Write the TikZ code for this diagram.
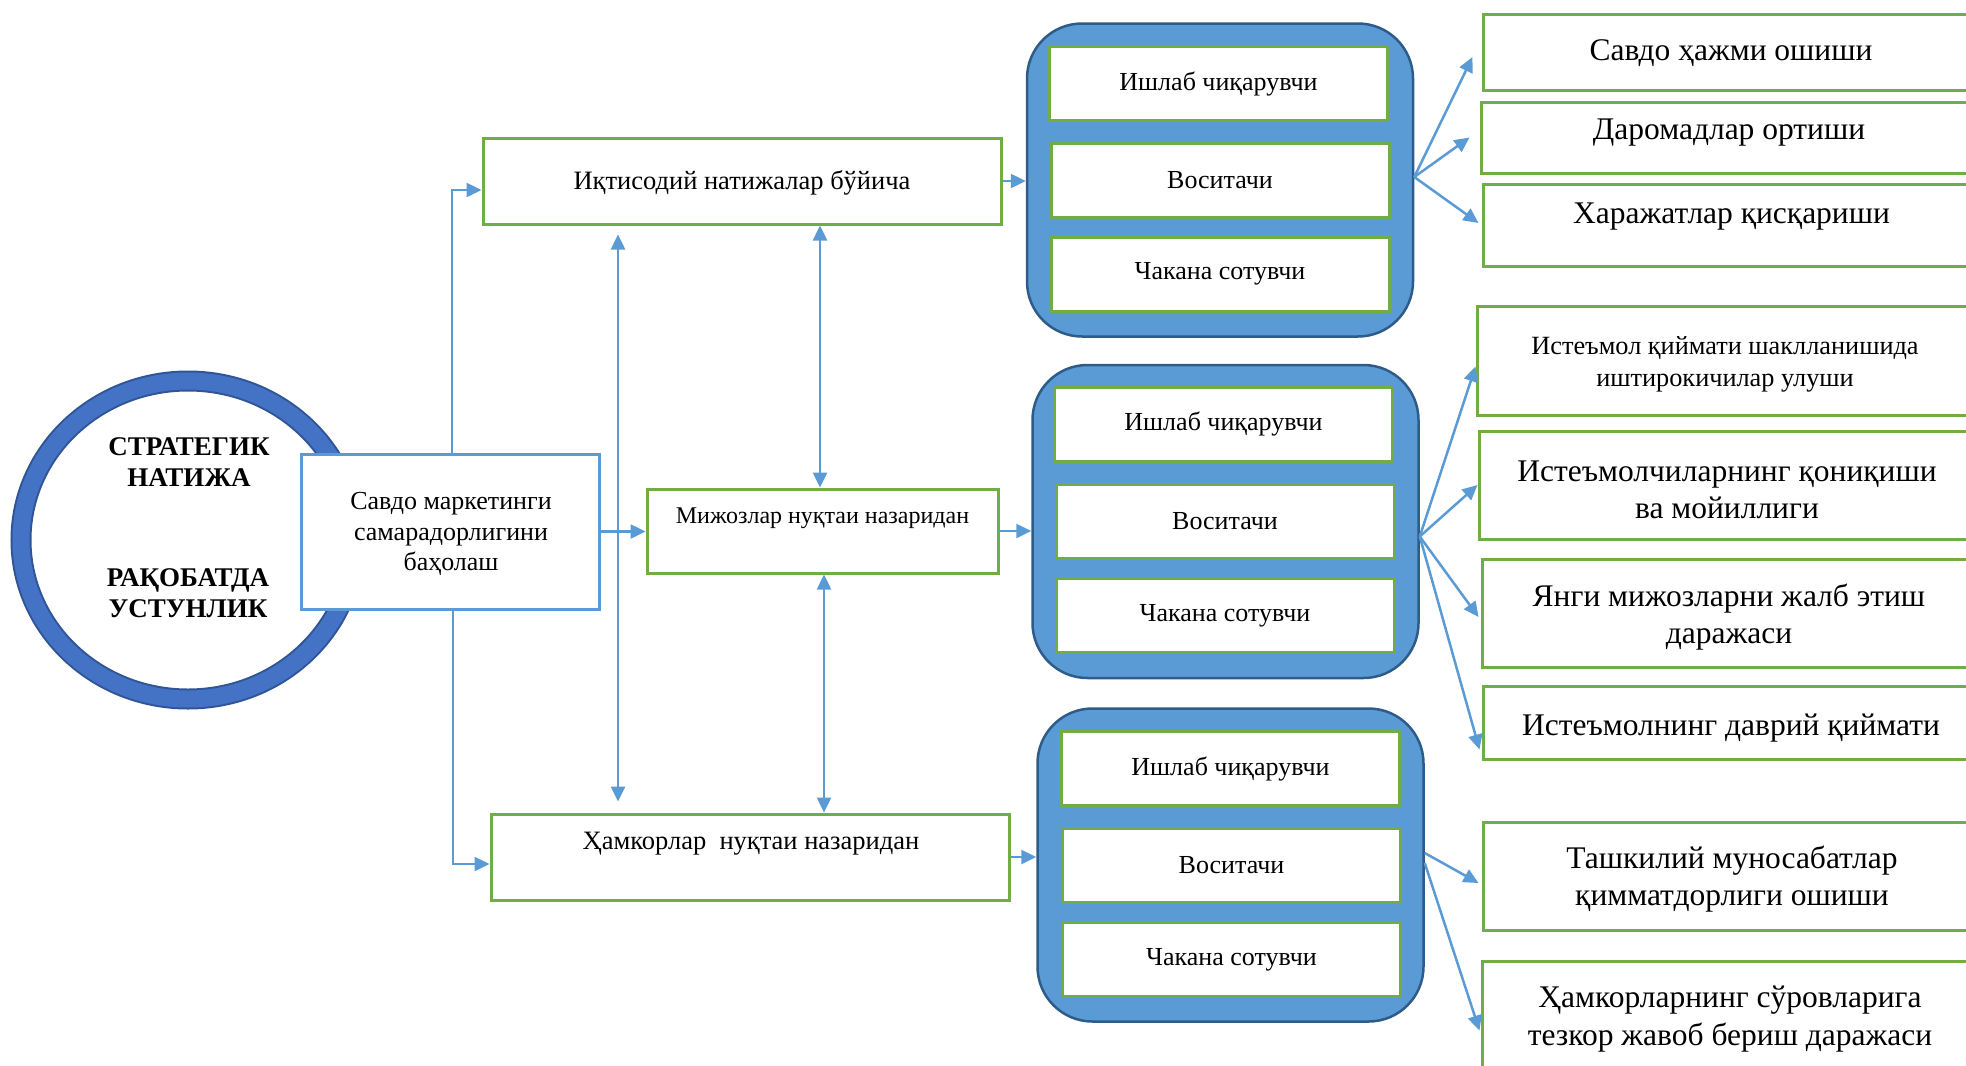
\documentclass[tikz,border=0pt]{standalone}
\usepackage{fontspec}
\setmainfont{Liberation Serif}
\usetikzlibrary{arrows.meta,shapes.geometric}
\definecolor{lblue}{HTML}{5B9BD5}
\definecolor{grn}{HTML}{70AD47}
\definecolor{ringc}{HTML}{4472C4}
\definecolor{ringd}{HTML}{2F5597}
\definecolor{pand}{HTML}{2E5C8A}
\newcommand{\fsz}[2]{\fontsize{#1}{#2}\selectfont}
\begin{document}
\begin{tikzpicture}[x=1pt,y=-1pt,
  txt/.style={align=center,inner sep=0pt,text=black},
  gbox/.style={draw=grn,line width=3pt,fill=white,inner sep=0pt},
  bbox/.style={draw=lblue,line width=3pt,fill=white,inner sep=0pt},
  panel/.style={draw=pand,fill=lblue,line width=2.5pt,rounded corners=55pt,inner sep=0pt,minimum width=386pt,minimum height=313pt},
  ibox/.style={gbox,minimum width=338pt,minimum height=74pt,font=\fsz{26}{30}},
  conn/.style={draw=lblue,line width=2.5pt,-{Triangle[length=15pt,width=14pt]}},
  dconn/.style={draw=lblue,line width=2.5pt,{Triangle[length=15pt,width=14pt]}-{Triangle[length=15pt,width=14pt]}},
  big/.style={txt,font=\fsz{31.5}{37.5}},
  small/.style={txt,font=\fsz{26.3}{32}},
]
\useasboundingbox (0,0) rectangle (1966,1066);

% ring
\node[ellipse,draw=ringd,line width=21pt,minimum width=334pt,minimum height=318pt,inner sep=0pt] (res) at (188,540) {};
\node[ellipse,draw=ringc,line width=17pt,minimum width=334pt,minimum height=318pt,inner sep=0pt] (resin) at (188,540) {};
\node[txt,font=\bfseries\fsz{27}{31}] (c1) at (189,462) {СТРАТЕГИК\\НАТИЖА};
\node[txt,font=\bfseries\fsz{27}{31}] (c2) at (188,593) {РАҚОБАТДА\\УСТУНЛИК};

% left boxes
\node[bbox,minimum width=298pt,minimum height=155pt] (sav) at (450,531.5) {};
\node[txt,font=\fsz{26}{30.5}] (savt) at (451,534) {Савдо маркетинги\\самарадорлигини\\баҳолаш};
\node[gbox,minimum width=518pt,minimum height=86pt] (ik) at (742,181) {};
\node[txt,font=\fsz{26.5}{30}] (ikt) at (742,183) {Иқтисодий натижалар бўйича};
\node[gbox,minimum width=351pt,minimum height=84pt] (miz) at (822.5,531) {};
\node[txt,font=\fsz{24}{30}] (mizt) at (822.5,518) {Мижозлар нуқтаи назаридан};
\node[gbox,minimum width=518pt,minimum height=86pt] (ham) at (750,857) {};
\node[txt,font=\fsz{26.5}{30}] (hamt) at (751,844) {Ҳамкорлар\ \ нуқтаи назаридан};

% panels
\node[panel] (p1) at (1220,180) {};
\node[ibox] (p1a) at (1218.5,83.5) {Ишлаб чиқарувчи};
\node[ibox] (p1b) at (1220,180.5) {Воситачи};
\node[ibox] (p1c) at (1220,274) {Чакана сотувчи};
\node[panel] (p2) at (1225.5,521.5) {};
\node[ibox] (p2a) at (1223.5,424) {Ишлаб чиқарувчи};
\node[ibox] (p2b) at (1225,521.5) {Воситачи};
\node[ibox] (p2c) at (1225,615.5) {Чакана сотувчи};
\node[panel] (p3) at (1230.5,865) {};
\node[ibox] (p3a) at (1230.5,768.5) {Ишлаб чиқарувчи};
\node[ibox] (p3b) at (1231.5,865) {Воситачи};
\node[ibox] (p3c) at (1231.5,959.5) {Чакана сотувчи};

% right boxes
\node[gbox,minimum width=495pt,minimum height=76pt] (r1) at (1730.5,52) {};
\node[big] (r1t) at (1731,53) {Савдо ҳажми ошиши};
\node[gbox,minimum width=497pt,minimum height=71pt] (r2) at (1729.5,137.5) {};
\node[big] (r2t) at (1729,133) {Даромадлар ортиши};
\node[gbox,minimum width=495pt,minimum height=82pt] (r3) at (1730.5,225) {};
\node[big] (r3t) at (1731.5,217) {Харажатлар қисқариши};
\node[gbox,minimum width=501pt,minimum height=109pt] (r4) at (1727.5,360.5) {};
\node[small] (r4t) at (1725,364) {Истеъмол қиймати шаклланишида\\иштирокичилар улуши};
\node[gbox,minimum width=499pt,minimum height=108pt] (r5) at (1728.5,485) {};
\node[big] (r5t) at (1727,490) {Истеъмолчиларнинг қониқиши\\ва мойиллиги};
\node[gbox,minimum width=496pt,minimum height=108pt] (r6) at (1730,613) {};
\node[big] (r6t) at (1729,617) {Янги мижозларни жалб этиш\\даражаси};
\node[gbox,minimum width=495pt,minimum height=73pt] (r7) at (1730.5,722.5) {};
\node[big] (r7t) at (1731,728) {Истеъмолнинг даврий қиймати};
\node[gbox,minimum width=495pt,minimum height=108pt] (r8) at (1730.5,876) {};
\node[big] (r8t) at (1732,879) {Ташкилий муносабатлар\\қимматдорлиги ошиши};
\node[gbox,minimum width=496pt,minimum height=119pt] (r9) at (1730,1020.5) {};
\node[big] (r9t) at (1730,1019) {Ҳамкорларнинг сўровларига\\тезкор жавоб бериш даражаси};

% left connectors
\draw[conn] ([xshift=2pt]sav.north) |- ([yshift=-9pt]ik.west);
\draw[conn] ([xshift=3pt]sav.south) |- ([yshift=-7pt]ham.west);
\draw[conn] (sav.east) -- (sav.east -| miz.west);
\coordinate (vx1) at (618,0);
\coordinate (vx2) at (820,0);
\coordinate (vx3) at (824,0);
\draw[dconn] ([yshift=-9pt]ik.south -| vx1) -- ([yshift=11pt]ham.north -| vx1);
\draw[dconn] (ik.south -| vx2) -- (miz.north -| vx2);
\draw[dconn] (miz.south -| vx3) -- (ham.north -| vx3);
\draw[conn] (ik.east) -- (ik.east -| p1.west);
\draw[conn] (miz.east) -- (miz.east -| p2.west);
\draw[conn] (ham.east) -- (ham.east -| p3.west);

% right connectors
\draw[conn] ([yshift=3pt]p1.east) -- ([xshift=-9pt,yshift=-5pt]r1.west);
\draw[conn] ([yshift=3pt]p1.east) -- ([xshift=-10pt]r2.west);
\draw[conn] ([yshift=3pt]p1.east) -- ([xshift=-3pt,yshift=2pt]r3.west);
\draw[conn] ([yshift=-15pt]p2.east) -- ([yshift=-6pt]r4.west);
\draw[conn] ([yshift=-15pt]p2.east) -- (r5.west);
\draw[conn] ([yshift=-15pt]p2.east) -- ([xshift=-2pt,yshift=-4pt]r6.west);
\draw[conn] ([yshift=-15pt]p2.east) -- ([xshift=-2pt,yshift=-27pt]r7.west);
\draw[conn] ([yshift=12pt]p3.east) -- ([xshift=-3pt,yshift=-7pt]r8.west);
\draw[conn] ([yshift=2pt]p3.east) -- ([xshift=-1pt,yshift=-10pt]r9.west);
\end{tikzpicture}
\end{document}
